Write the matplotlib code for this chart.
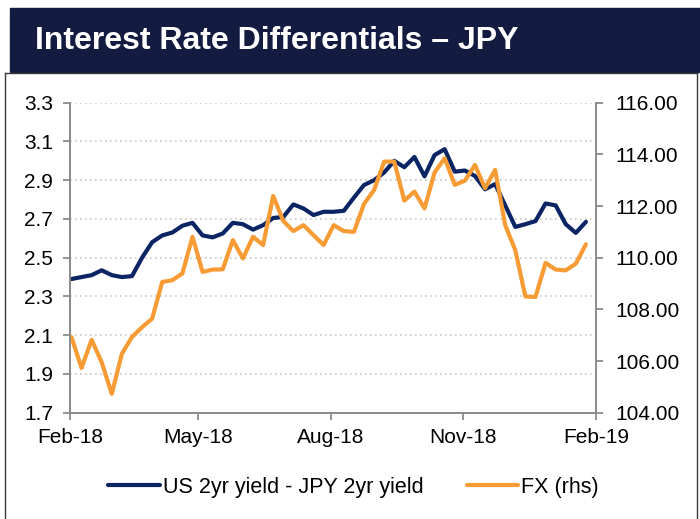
import pandas as pd
import matplotlib.pyplot as plt
import matplotlib.dates as mdates
from matplotlib.patches import Rectangle
from matplotlib.lines import Line2D
from matplotlib.ticker import FormatStrFormatter

plt.rcParams['font.family'] = ['Liberation Sans', 'DejaVu Sans']

# weekly observations, Feb-2018 to Jan-2019
dates = pd.date_range('2018-02-02', periods=52, freq='7D')

spread = [2.39, 2.40, 2.41, 2.435, 2.41, 2.40, 2.405, 2.50, 2.58, 2.615,
          2.63, 2.665, 2.68, 2.615, 2.605, 2.625, 2.68, 2.673, 2.645, 2.668,
          2.705, 2.71, 2.775, 2.754, 2.72, 2.737, 2.737, 2.742, 2.81, 2.875,
          2.90, 2.94, 3.00, 2.967, 3.02, 2.92, 3.03, 3.06, 2.944, 2.95,
          2.922, 2.853, 2.88, 2.77, 2.659, 2.673, 2.689, 2.78, 2.77, 2.673,
          2.628, 2.685]

fx = [106.93, 105.73, 106.82, 105.95, 104.73, 106.28, 106.93, 107.31, 107.64, 109.06,
      109.13, 109.39, 110.81, 109.45, 109.54, 109.55, 110.68, 109.97, 110.81, 110.49,
      112.39, 111.42, 111.03, 111.26, 110.87, 110.49, 111.26, 111.03, 111.00, 112.08,
      112.62, 113.72, 113.72, 112.21, 112.56, 111.91, 113.30, 113.85, 112.82, 112.98,
      113.59, 112.69, 113.40, 111.26, 110.29, 108.50, 108.48, 109.80, 109.54, 109.51,
      109.77, 110.52]

left_ticks = [1.7, 1.9, 2.1, 2.3, 2.5, 2.7, 2.9, 3.1, 3.3]
right_ticks = [104, 106, 108, 110, 112, 114, 116]
x_ticks = ['2018-02-01', '2018-05-01', '2018-08-01', '2018-11-01', '2019-02-01']

navy = '#0b2463'
orange = '#f79b34'
axis_grey = '#8c8c8c'

fig = plt.figure(figsize=(7, 5.19), dpi=100)

# title bar and frame
fig.patches.append(Rectangle((10 / 700, 1 - 72 / 519), 690 / 700, 64 / 519,
                             transform=fig.transFigure, color='#131b40', zorder=0))
fig.text(35 / 700, 1 - 41 / 519, 'Interest Rate Differentials \u2013 JPY',
         color='white', fontsize=23, fontweight='bold', va='center', ha='left')
frame_kw = dict(transform=fig.transFigure, color='#3a3a3a', linewidth=1)
fig.lines.append(Line2D([5 / 700, 5 / 700], [0, 1 - 72.5 / 519], **frame_kw))
fig.lines.append(Line2D([5 / 700, 697 / 700], [1 - 72.5 / 519, 1 - 72.5 / 519], **frame_kw))
fig.lines.append(Line2D([697 / 700, 697 / 700], [0, 1 - 72.5 / 519], **frame_kw))

ax = fig.add_axes([70 / 700, 1 - 412.7 / 519, 526 / 700, 310 / 519])
ax2 = ax.twinx()

ax.plot(dates, spread, color=navy, linewidth=3, solid_capstyle='round',
        label='US 2yr yield - JPY 2yr yield')
ax2.plot(dates, fx, color=orange, linewidth=3, solid_capstyle='round',
         label='FX (rhs)')

ax.set_ylim(1.7, 3.3)
ax.set_yticks(left_ticks)
ax.yaxis.set_major_formatter(FormatStrFormatter('%.1f'))
ax2.set_ylim(104, 116)
ax2.set_yticks(right_ticks)
ax2.yaxis.set_major_formatter(FormatStrFormatter('%.2f'))

ax.set_xlim(pd.Timestamp('2018-02-01'), pd.Timestamp('2019-02-01'))
ax.set_xticks(pd.to_datetime(x_ticks))
ax.xaxis.set_major_formatter(mdates.DateFormatter('%b-%y'))

ax.grid(axis='y', color='#c8c8c8', linestyle=(0, (1, 2)), linewidth=1.2)
ax.set_axisbelow(True)

for a in (ax, ax2):
    a.spines['top'].set_visible(False)
    for s in ('left', 'right', 'bottom'):
        a.spines[s].set_color(axis_grey)
        a.spines[s].set_linewidth(1.3)
    a.tick_params(colors='black', labelsize=15, length=5, width=1.3, color=axis_grey)

ax.tick_params(axis='y', pad=7)
ax.tick_params(axis='x', pad=6)
ax2.tick_params(axis='y', pad=9)

h1, l1 = ax.get_legend_handles_labels()
h2, l2 = ax2.get_legend_handles_labels()
fig.legend(h1 + h2, l1 + l2, loc='center', bbox_to_anchor=(0.505, 1 - 487 / 519),
           ncol=2, frameon=False, fontsize=15.5, handlelength=2.4,
           handletextpad=0.15, columnspacing=2.0)

fig.savefig('out.png', dpi=100)
